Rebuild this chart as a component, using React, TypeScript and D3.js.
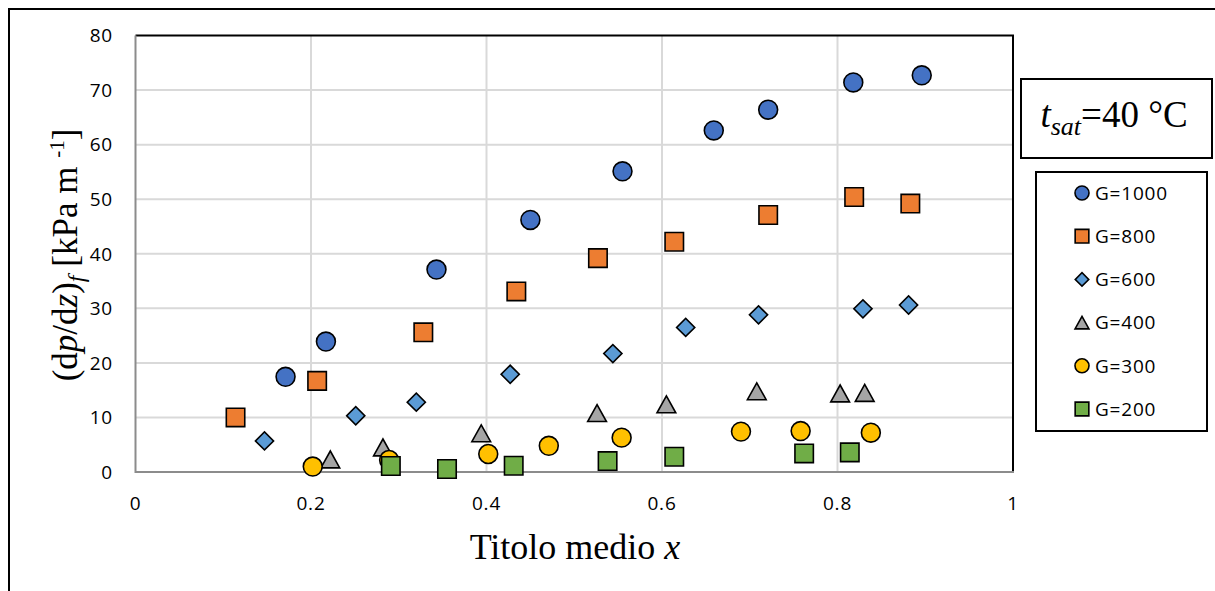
import React, { useEffect } from "react";
import * as d3 from "d3";

// dati: titolo medio x e gradiente di pressione [kPa/m]
const seriesNames = ["G=1000", "G=800", "G=600", "G=400", "G=300", "G=200"];

const g1000X = [0.171, 0.217, 0.343, 0.45, 0.555, 0.659, 0.721, 0.818, 0.896];
const g1000Y = [17.45, 23.9, 37.1, 46.2, 55.1, 62.6, 66.4, 71.4, 72.7];

const g800X = [0.114, 0.207, 0.328, 0.434, 0.527, 0.614, 0.721, 0.819, 0.883];
const g800Y = [10.0, 16.7, 25.6, 33.1, 39.2, 42.2, 47.1, 50.4, 49.2];

const g600X = [0.147, 0.251, 0.32, 0.427, 0.544, 0.627, 0.71, 0.829, 0.881];
const g600Y = [5.7, 10.3, 12.8, 17.9, 21.7, 26.5, 28.8, 29.9, 30.6];

const g400X = [0.222, 0.282, 0.394, 0.526, 0.605, 0.708, 0.803, 0.831];
const g400Y = [2.3, 4.5, 7.1, 10.8, 12.4, 14.8, 14.4, 14.5];

const g300X = [0.202, 0.289, 0.402, 0.471, 0.554, 0.69, 0.758, 0.838];
const g300Y = [1.0, 2.2, 3.3, 4.8, 6.3, 7.4, 7.5, 7.2];

const g200X = [0.291, 0.355, 0.431, 0.538, 0.614, 0.762, 0.814];
const g200Y = [1.1, 0.55, 1.15, 2.0, 2.8, 3.4, 3.6];

const xTicks = [0, 0.2, 0.4, 0.6, 0.8, 1];
const yTicks = [0, 10, 20, 30, 40, 50, 60, 70, 80];

const colors = ["#4472C4", "#ED7D31", "#5B9BD5", "#A5A5A5", "#FFC000", "#70AD47"];

// triangolo centrato sul riquadro (come Excel)
const triangleBox = {
  draw(ctx: any, size: number) {
    const w = Math.sqrt(size * 2.2);
    const h = w * 0.9;
    ctx.moveTo(0, -h / 2);
    ctx.lineTo(w / 2, h / 2);
    ctx.lineTo(-w / 2, h / 2);
    ctx.closePath();
  },
};

const shapes = ["circle", "square", "diamond", "triangle", "circle", "square"];

function markerPath(shape: string, scale: number) {
  if (shape === "circle") return d3.symbol(d3.symbolCircle, 280 * scale)()!;
  if (shape === "square") return d3.symbol(d3.symbolSquare, 340 * scale)()!;
  if (shape === "diamond") return d3.symbol(d3.symbolSquare, 165 * scale)()!;
  return d3.symbol(triangleBox as any, 160 * scale)()!;
}

const series = [
  { x: g1000X, y: g1000Y },
  { x: g800X, y: g800Y },
  { x: g600X, y: g600Y },
  { x: g400X, y: g400Y },
  { x: g300X, y: g300Y },
  { x: g200X, y: g200Y },
].map((s, i) => ({
  name: seriesNames[i],
  color: colors[i],
  shape: shapes[i],
  points: s.x.map((v, j) => ({ x: v, y: s.y[j] })),
}));

const W = 1215;
const H = 591;
const plot = { left: 135.5, right: 1013, top: 35.5, bottom: 472 };
const serif = "'Liberation Serif', 'Times New Roman', serif";
const sans = "'Open Sans', sans-serif";

function Marker({ shape, color, x, y, scale = 1 }: any) {
  const rot = shape === "diamond" ? " rotate(45)" : "";
  return (
    <path
      d={markerPath(shape, scale)}
      transform={`translate(${x},${y})${rot}`}
      fill={color}
      stroke="#000"
      strokeWidth={1.6}
    />
  );
}

export default function App() {
  useEffect(() => {
    document.body.style.margin = "0";
    document.body.style.overflow = "hidden";
  }, []);

  const x = d3.scaleLinear().domain([0, 1]).range([plot.left, plot.right]);
  const y = d3.scaleLinear().domain([0, 80]).range([plot.bottom, plot.top]);

  const legendRows = d3.scaleLinear().domain([0, 5]).range([193, 409]);

  return (
    <svg width={W} height={H} style={{ display: "block", background: "#fff" }}>
      {/* cornice esterna */}
      <rect x={9} y={9} width={W + 20} height={H + 20} fill="none" stroke="#000" strokeWidth={2} />

      {/* griglia */}
      {yTicks.slice(1, -1).map((t) => (
        <line key={"gy" + t} x1={plot.left} x2={plot.right} y1={y(t)} y2={y(t)} stroke="#D9D9D9" strokeWidth={2} />
      ))}
      {xTicks.slice(1, -1).map((t) => (
        <line key={"gx" + t} x1={x(t)} x2={x(t)} y1={plot.top} y2={plot.bottom} stroke="#D9D9D9" strokeWidth={2} />
      ))}

      {/* bordo area del grafico */}
      <line x1={plot.left} x2={plot.right + 1} y1={plot.top} y2={plot.top} stroke="#000" strokeWidth={2} />
      <line x1={plot.right} x2={plot.right} y1={plot.top} y2={plot.bottom} stroke="#000" strokeWidth={2} />
      <line x1={plot.left} x2={plot.left} y1={plot.top} y2={plot.bottom + 1} stroke="#8C8C8C" strokeWidth={2} />
      <line x1={plot.left} x2={plot.right + 1} y1={plot.bottom} y2={plot.bottom} stroke="#8C8C8C" strokeWidth={2} />

      {/* etichette assi */}
      {yTicks.map((t) => (
        <text key={"ty" + t} x={113} y={y(t)} dy="0.36em" textAnchor="end" fontFamily={sans} fontSize={19} letterSpacing={0.8} fill="#000">
          {t}
        </text>
      ))}
      {xTicks.map((t) => (
        <text key={"tx" + t} x={x(t)} y={510} textAnchor="middle" fontFamily={sans} fontSize={19} letterSpacing={0.8} fill="#000">
          {t}
        </text>
      ))}

      {/* punti */}
      {series.map((s) =>
        s.points.map((p, j) => (
          <Marker key={s.name + j} shape={s.shape} color={s.color} x={x(p.x)} y={y(p.y)} />
        ))
      )}

      {/* titoli assi */}
      <text x={575} y={559} textAnchor="middle" fontFamily={serif} fontSize={36} fill="#000">
        Titolo medio <tspan fontStyle="italic">x</tspan>
      </text>
      <text transform="translate(77,255) rotate(-90)" textAnchor="middle" fontFamily={serif} fontSize={35} fill="#000">
        (d<tspan fontStyle="italic">p</tspan>/d<tspan fontStyle="italic">z</tspan>)
        <tspan fontStyle="italic" fontSize={24} dy={7}>f</tspan>
        <tspan dy={-7}> [kPa m </tspan>
        <tspan fontSize={21} dy={-13}>-1</tspan>
        <tspan dy={13}>]</tspan>
      </text>

      {/* riquadro temperatura */}
      <rect x={1021} y={79} width={191} height={79} fill="#fff" stroke="#000" strokeWidth={2} />
      <text x={1114} y={127} textAnchor="middle" fontFamily={serif} fontSize={37} fill="#000">
        <tspan fontStyle="italic">t</tspan>
        <tspan fontStyle="italic" fontSize={26} dy={8}>sat</tspan>
        <tspan dy={-8}>=40 °C</tspan>
      </text>

      {/* legenda */}
      <rect x={1036} y={172} width={171} height={259} fill="#fff" stroke="#000" strokeWidth={2} />
      {series.map((s, i) => (
        <g key={"lg" + s.name}>
          <Marker shape={s.shape} color={s.color} x={1082} y={legendRows(i)} scale={0.55} />
          <text x={1095} y={legendRows(i)} dy="0.36em" fontFamily={sans} fontSize={19} letterSpacing={0.8} fill="#000">
            {s.name}
          </text>
        </g>
      ))}
    </svg>
  );
}
